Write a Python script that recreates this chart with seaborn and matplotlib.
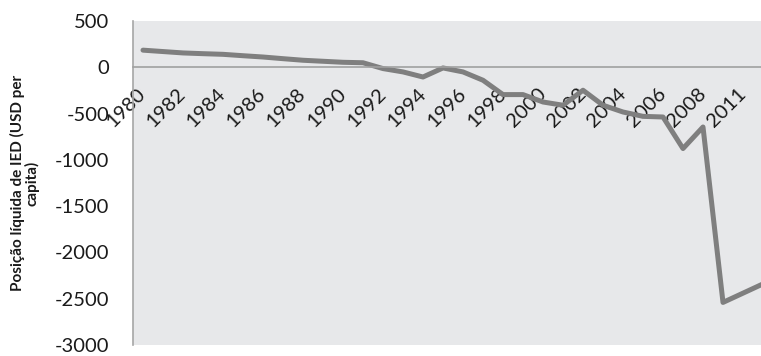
import matplotlib
matplotlib.use("Agg")
import matplotlib.pyplot as plt
import pandas as pd
import seaborn as sns

# Net FDI position per capita, by year
years = [str(y) for y in range(1980, 2009)] + ["2010", "2011", "2012"]
values = [185, 170, 155, 147, 140, 125, 111, 93, 76, 65,
          54, 49, -14, -50, -105, -7, -50, -140, -295, -295,
          -375, -410, -248, -410, -483, -530, -537, -878, -645,
          -2540, -2440, -2340]
y_ticks = [500, 0, -500, -1000, -1500, -2000, -2500, -3000]
y_title = "Posição líquida de IED (USD per\ncapita)"

sns.set_style("white")
plt.rcParams["font.family"] = ["Lato", "DejaVu Sans"]

df = pd.DataFrame({"idx": range(len(years)), "year": years, "value": values})

W, H = 761, 356
fig = plt.figure(figsize=(W / 100, H / 100), dpi=100)
left, top, bottom = 133, 21, 345
cat_w = 20
ax = fig.add_axes([left / W, (H - bottom) / H, len(years) * cat_w / W, (bottom - top) / H])
ax.set_facecolor("#E7E8EA")

sns.lineplot(data=df, x="idx", y="value", ax=ax, color="#7F7F7F",
             linewidth=3.6, solid_joinstyle="round", solid_capstyle="round")

# category axis crosses at zero
for s in ["top", "right"]:
    ax.spines[s].set_visible(False)
ax.spines["bottom"].set_position(("data", 0))
ax.spines["bottom"].set_color("#A0A0A0")
ax.spines["bottom"].set_linewidth(1.2)
ax.spines["left"].set_color("#A6A6A6")
ax.spines["left"].set_linewidth(1.2)

ax.set_xlim(-0.5, len(years) - 0.5)
ax.set_ylim(-3000, 500)
ax.set_yticks(y_ticks)
ax.set_yticklabels([str(t) for t in y_ticks], fontsize=14.5, color="#1a1a1a")
ax.set_xticks(df["idx"][::2])
ax.set_xticklabels(df["year"][::2], rotation=45, ha="right", va="center",
                   rotation_mode="anchor", fontsize=14.5, color="#1a1a1a")
ax.tick_params(axis="both", length=0)
ax.tick_params(axis="y", pad=17)
ax.tick_params(axis="x", pad=17)

ax.set_xlabel("")
ax.set_ylabel(y_title, fontsize=11, fontweight="bold", color="#1a1a1a",
              labelpad=11, linespacing=1.0)

fig.savefig("out.png", dpi=100, facecolor="white")
